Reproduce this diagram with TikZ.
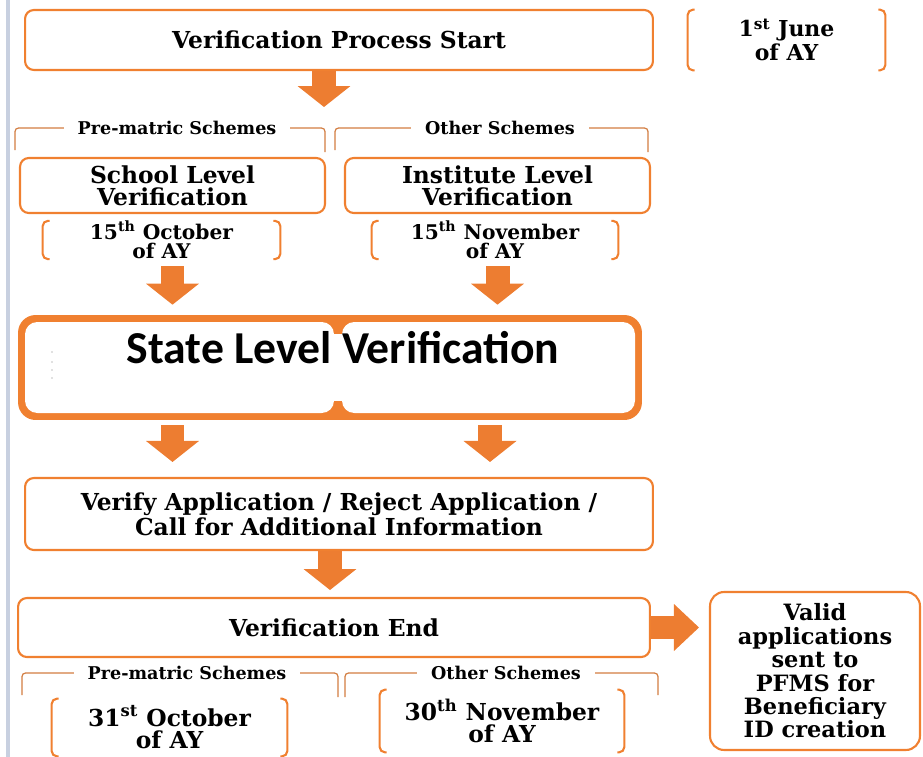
\documentclass[tikz,border=0pt]{standalone}
\usepackage{fontspec}
\setmainfont{DejaVu Serif}
\newfontfamily\calibfont{Carlito}
\usetikzlibrary{arrows.meta,positioning,calc}
\definecolor{stageorange}{RGB}{240,128,48}
\definecolor{arroworange}{RGB}{237,125,49}
\definecolor{hdrorange}{RGB}{210,125,65}
\definecolor{marginblue}{RGB}{200,208,224}
\newcommand{\datebrackets}[1]{%
  \draw[bracketline] ([xshift=4pt]#1.north west) -- (#1.north west) -- (#1.south west) -- ([xshift=4pt]#1.south west);
  \draw[bracketline] ([xshift=-4pt]#1.north east) -- (#1.north east) -- (#1.south east) -- ([xshift=-4pt]#1.south east);}
\tikzset{
  stagebox/.style={draw=stageorange, line width=1.2pt, rounded corners=5pt, fill=white,
    align=center, inner sep=0pt, font=\bfseries\fontsize{13.3}{12.5}\selectfont},
  datetext/.style={align=center, inner sep=0pt, font=\bfseries\fontsize{11.5}{10.8}\selectfont},
  hdrtext/.style={fill=white, inner xsep=8pt, inner ysep=1pt, font=\bfseries\fontsize{10}{10}\selectfont},
  bracketline/.style={draw=stageorange, line width=1.2pt, rounded corners=3pt},
  hdrline/.style={draw=hdrorange, line width=0.7pt, rounded corners=2pt},
  blockdown/.style={draw=arroworange, line width=0.48cm,
    -{Triangle[length=0.42cm,width=1.06cm,line width=0pt]}},
  blockright/.style={draw=arroworange, line width=0.46cm,
    -{Triangle[length=0.5cm,width=0.94cm,line width=0pt]}},
}
\begin{document}
\begin{tikzpicture}[x=0.02cm, y=-0.02cm]
  \useasboundingbox (0,0) rectangle (923,757);
  \draw[marginblue, line width=2pt] (8,0) -- (8,757);

  % --- start ---
  \node[stagebox, minimum width=12.56cm, minimum height=1.2cm] (start) at (339,40)
    {Verification Process Start};
  \node[datetext, font=\bfseries\fontsize{12.5}{13.6}\selectfont,
    minimum width=3.94cm, minimum height=1.2cm] (startdate) at (786.5,40)
    {1\textsuperscript{st} June\\of AY};
  \datebrackets{startdate}
  \coordinate (a1) at (324,107);
  \draw[blockdown] (a1 |- start.south) -- (a1);

  % --- scheme headers ---
  \draw[hdrline] (15,150) -- (15,128) -- (325,128) -- (325,152);
  \node[hdrtext] (prehdr) at (177,128) {Pre-matric Schemes};
  \draw[hdrline] (335,150) -- (335,128) -- (648,128) -- (648,152);
  \node[hdrtext] (othhdr) at (500,128) {Other Schemes};

  % --- school / institute ---
  \node[stagebox, minimum width=6.1cm, minimum height=1.1cm] (schoolbox) at (172.5,185.5)
    {School Level\\Verification};
  \node[stagebox, minimum width=6.1cm, minimum height=1.1cm] (instbox) at (497.5,185.5)
    {Institute Level\\Verification};
  \node[datetext, minimum width=4.74cm, minimum height=0.72cm] (schooldate) at (161.5,240)
    {15\textsuperscript{th} October\\of AY};
  \node[datetext, minimum width=4.92cm, minimum height=0.72cm] (instdate) at (495,240)
    {15\textsuperscript{th} November\\of AY};
  \datebrackets{schooldate}
  \datebrackets{instdate}

  % --- state level ---
  \node[fill=stageorange, rounded corners=10pt, minimum width=12.48cm, minimum height=2.1cm]
    (state) at (330,367.5) {};
  \fill[white, rounded corners=7pt] (25,322) rectangle (334,413);
  \fill[white, rounded corners=7pt] (342,322) rectangle (635,413);
  \fill[white] (328,334) rectangle (348,401);
  \foreach \dy in {352,362,370,378}
    \fill[gray] (52,\dy) circle (0.4pt);
  \node[font=\calibfont\bfseries\fontsize{26}{26}\selectfont] (statetxt) at (343,348)
    {State Level Veri{}fication};

  \draw[blockdown, shorten <=0.14cm, shorten >=0.2cm] (schoolbox.south |- schooldate.south) -- (schoolbox.south |- state.north);
  \draw[blockdown, shorten <=0.14cm, shorten >=0.2cm] (instbox.south |- instdate.south) -- (instbox.south |- state.north);

  % --- verify ---
  \node[stagebox, font=\bfseries\fontsize{13.3}{13}\selectfont,
    minimum width=12.56cm, minimum height=1.44cm] (verify) at (339,514)
    {Verify Application / Reject Application /\\Call for Additional Information};
  \draw[blockdown, shorten <=0.1cm, shorten >=0.3cm] (schoolbox.south |- state.south) -- (schoolbox.south |- verify.north);
  \draw[blockdown, shorten <=0.1cm, shorten >=0.3cm] (490,0 |- state.south) -- (490,0 |- verify.north);

  % --- end ---
  \node[stagebox, minimum width=12.64cm, minimum height=1.18cm] (end) at (334,627.5)
    {Verification End};
  \coordinate (a2) at (330,590);
  \draw[blockdown] (a2 |- verify.south) -- (a2);

  \node[stagebox, rounded corners=8pt, font=\bfseries\fontsize{12.8}{13.3}\selectfont,
    minimum width=4.2cm, minimum height=3.16cm] (valid) at (815,671)
    {Valid\\applications\\sent to\\PFMS for\\Beneficiary\\ID creation};
  \draw[blockright, shorten >=0.2cm] (end.east) -- (valid.west |- end.east);

  % --- closing dates ---
  \draw[hdrline] (22,695) -- (22,673) -- (338,673) -- (338,697);
  \node[hdrtext] (prehdr2) at (187,673) {Pre-matric Schemes};
  \draw[hdrline] (345,697) -- (345,673) -- (658,673) -- (658,695);
  \node[hdrtext] (othhdr2) at (506,673) {Other Schemes};

  \node[datetext, font=\bfseries\fontsize{13.3}{13}\selectfont,
    minimum width=4.7cm, minimum height=1.14cm] (predate) at (169.5,727.5)
    {31\textsuperscript{st} October\\of AY};
  \node[datetext, font=\bfseries\fontsize{13.3}{12.5}\selectfont,
    minimum width=4.88cm, minimum height=1.24cm] (othdate) at (502,721)
    {30\textsuperscript{th} November\\of AY};
  \datebrackets{predate}
  \datebrackets{othdate}
\end{tikzpicture}
\end{document}
